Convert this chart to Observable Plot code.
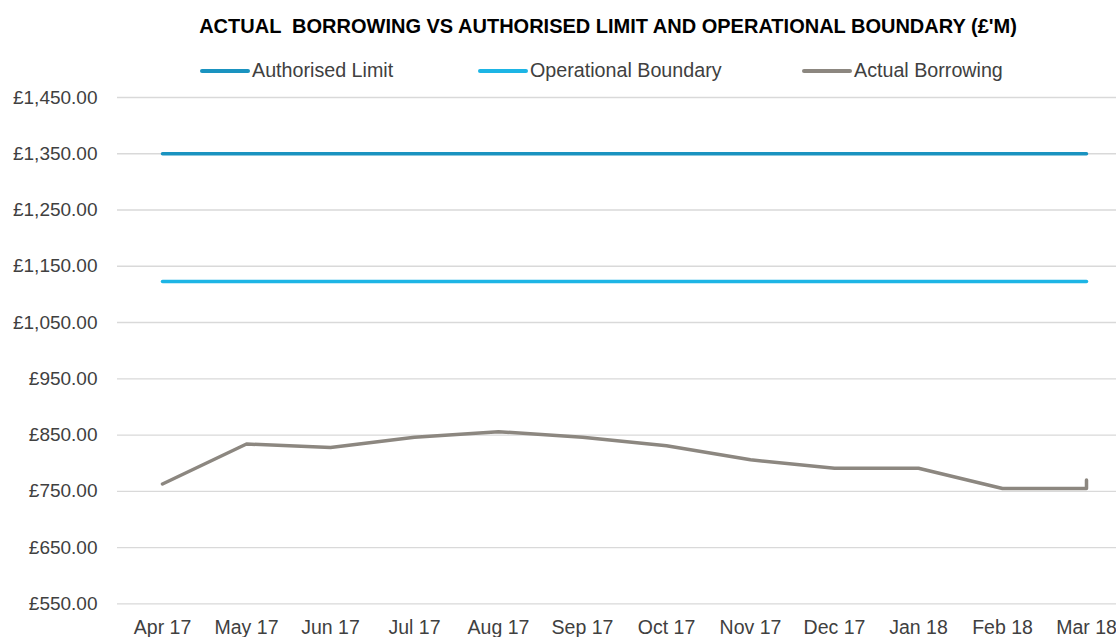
<!DOCTYPE html>
<html>
<head>
<meta charset="utf-8">
<script src="https://cdn.jsdelivr.net/npm/d3@7"></script>
<script src="https://cdn.jsdelivr.net/npm/@observablehq/plot@0.6"></script>
<style>
  html, body { margin: 0; padding: 0; background: #fff; }
  #wrap { position: relative; width: 1116px; height: 637px; overflow: hidden; font-family: "Liberation Sans Narrow", "Liberation Sans", sans-serif; }
  #title { position: absolute; left: 0; width: 1216px; top: 15px; text-align: center; font-weight: bold; font-size: 20px; color: #000; white-space: pre; }
  .leg { position: absolute; top: 59px; display: flex; align-items: center; font-size: 19.7px; color: #404040; white-space: nowrap; }
  .sw { width: 50px; height: 4px; border-radius: 2px; margin-right: 2px; }
  #chart { position: absolute; left: 0; top: 85px; }
</style>
</head>
<body>
<div id="wrap">
  <div id="title"></div>
  <div id="legend"></div>
  <div id="chart"></div>
</div>
<script>
const titleText = "ACTUAL  BORROWING VS AUTHORISED LIMIT AND OPERATIONAL BOUNDARY (£'M)";
const months = ["Apr 17","May 17","Jun 17","Jul 17","Aug 17","Sep 17","Oct 17","Nov 17","Dec 17","Jan 18","Feb 18","Mar 18"];
const authorisedLimit = [1350,1350,1350,1350,1350,1350,1350,1350,1350,1350,1350,1350];
const operationalBoundary = [1123,1123,1123,1123,1123,1123,1123,1123,1123,1123,1123,1123];
const actualBorrowing = [763,834,828,846,856,846,831,806,791,791,755,755];
const actualMarchClose = 770; // small closing uptick drawn at Mar 18
const yTicks = [550,650,750,850,950,1050,1150,1250,1350,1450];
const seriesNames = ["Authorised Limit","Operational Boundary","Actual Borrowing"];
const seriesColors = ["#1a93c0","#1db5e5","#8c8780"];

document.getElementById("title").textContent = titleText;

const legendX = [200, 478, 802];
const legend = document.getElementById("legend");
seriesNames.forEach((name, i) => {
  const d = document.createElement("div");
  d.className = "leg";
  d.style.left = legendX[i] + "px";
  const sw = document.createElement("div");
  sw.className = "sw";
  sw.style.background = seriesColors[i];
  d.appendChild(sw);
  const t = document.createElement("span");
  t.textContent = name;
  d.appendChild(t);
  legend.appendChild(d);
});

const rows = [];
months.forEach((m, i) => {
  rows.push({month: m, value: authorisedLimit[i], series: seriesNames[0], order: i});
  rows.push({month: m, value: operationalBoundary[i], series: seriesNames[1], order: i});
  rows.push({month: m, value: actualBorrowing[i], series: seriesNames[2], order: i});
});
rows.push({month: months[months.length - 1], value: actualMarchClose, series: seriesNames[2], order: months.length});

const fmt = d => "£" + d3.format(",.2f")(d);

const chart = Plot.plot({
  width: 1116,
  height: 552,
  marginTop: 12,
  marginBottom: 33.7,
  marginLeft: 117,
  marginRight: 0,
  style: { fontFamily: "'Liberation Sans Narrow', 'Liberation Sans', sans-serif", fontSize: "18px", color: "#404040", background: "#fff" },
  x: { type: "point", domain: months, range: [160, 1088], padding: 0, label: null },
  y: { domain: [550, 1450], range: [518.3, 12], label: null },
  color: { domain: seriesNames, range: seriesColors },
  marks: [
    Plot.ruleY(yTicks, { stroke: "#d9d9d9", strokeWidth: 1.3 }),
    Plot.axisY({ ticks: yTicks, tickFormat: fmt, tickSize: 0, tickPadding: 20, fontSize: 19, fontFamily: "'Liberation Sans', sans-serif", fill: "#404040" }),
    Plot.axisX({ tickSize: 0, tickPadding: 16, fontSize: 19.5, fill: "#404040" }),
    Plot.line(rows, { x: "month", y: "value", z: "series", stroke: "series", sort: "order", strokeWidth: 3.5, strokeLinecap: "round", strokeLinejoin: "round" })
  ]
});
document.getElementById("chart").appendChild(chart);
</script>
</body>
</html>
